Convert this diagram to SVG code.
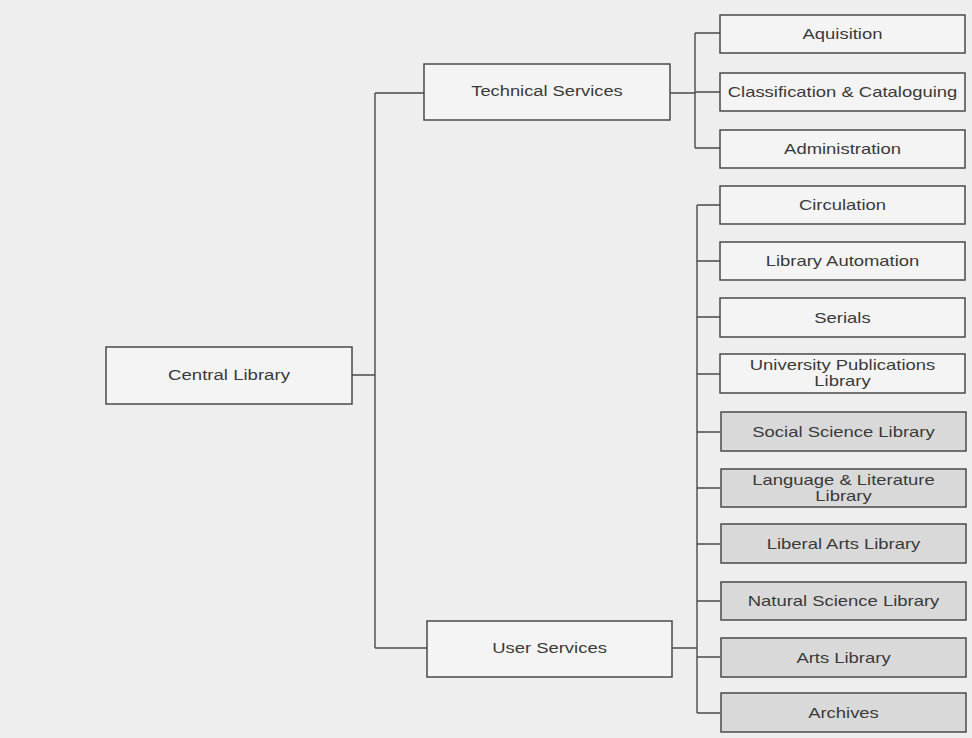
<svg xmlns="http://www.w3.org/2000/svg" width="972" height="738" viewBox="0 0 972 738">
  <style>
    .box { stroke: #4a4a4a; stroke-width: 1.5; }
    .plain { fill: #f4f4f4; }
    .shade { fill: #d9d9d9; }
    .lbl { font-family: "Liberation Sans", Arial, sans-serif; font-size: 15px; fill: #3a3a3a; text-anchor: middle; }
    .wire { fill: none; stroke: #4a4a4a; stroke-width: 1.4; }
  </style>
  <rect width="972" height="738" fill="#eeeeee"/>

  <!-- tree connectors -->
  <g id="connectors">
    <!-- root to second level -->
    <path class="wire" d="M352 375 H375 M375 93 V648 M375 93 H424 M375 648 H427"/>
    <!-- Technical Services branch -->
    <path class="wire" d="M670 93 H695 M695 33 V148 M695 33 H720 M695 92 H720 M695 148 H720"/>
    <!-- User Services branch -->
    <path class="wire" d="M672 648 H697 M697 205 V713 M697 205 H720 M697 261 H720 M697 317 H720 M697 374 H720 M697 432 H720 M697 488 H720 M697 544 H720 M697 601 H720 M697 657 H720 M697 713 H720"/>
  </g>

  <g id="central-library">
    <rect class="box plain" x="106" y="347" width="246" height="57"/>
    <text class="lbl" transform="translate(229 380) scale(1.24 1)">Central Library</text>
  </g>

  <g id="technical-services">
    <rect class="box plain" x="424" y="64" width="246" height="56"/>
    <text class="lbl" transform="translate(547 96) scale(1.22 1)">Technical Services</text>
  </g>

  <g id="user-services">
    <rect class="box plain" x="427" y="621" width="245" height="56"/>
    <text class="lbl" transform="translate(549.5 653) scale(1.23 1)">User Services</text>
  </g>

  <g id="aquisition">
    <rect class="box plain" x="720" y="15" width="245" height="38"/>
    <text class="lbl" transform="translate(842.5 39) scale(1.23 1)">Aquisition</text>
  </g>
  <g id="classification">
    <rect class="box plain" x="720" y="73" width="245" height="38"/>
    <text class="lbl" transform="translate(842.5 97) scale(1.23 1)">Classification &amp; Cataloguing</text>
  </g>
  <g id="administration">
    <rect class="box plain" x="720" y="130" width="245" height="38"/>
    <text class="lbl" transform="translate(842.5 154) scale(1.23 1)">Administration</text>
  </g>

  <g id="circulation">
    <rect class="box plain" x="720" y="186" width="245" height="38"/>
    <text class="lbl" transform="translate(842.5 210) scale(1.23 1)">Circulation</text>
  </g>
  <g id="library-automation">
    <rect class="box plain" x="720" y="242" width="245" height="38"/>
    <text class="lbl" transform="translate(842.5 266) scale(1.23 1)">Library Automation</text>
  </g>
  <g id="serials">
    <rect class="box plain" x="720" y="298" width="245" height="39"/>
    <text class="lbl" transform="translate(842.5 322.5) scale(1.23 1)">Serials</text>
  </g>
  <g id="university-publications">
    <rect class="box plain" x="720" y="354" width="245" height="39"/>
    <text class="lbl" transform="translate(842.5 370) scale(1.23 1)">University Publications</text>
    <text class="lbl" transform="translate(842.5 385.5) scale(1.23 1)">Library</text>
  </g>
  <g id="social-science">
    <rect class="box shade" x="721" y="412" width="245" height="39"/>
    <text class="lbl" transform="translate(843.5 437) scale(1.23 1)">Social Science Library</text>
  </g>
  <g id="language-literature">
    <rect class="box shade" x="721" y="469" width="245" height="38"/>
    <text class="lbl" transform="translate(843.5 485) scale(1.23 1)">Language &amp; Literature</text>
    <text class="lbl" transform="translate(843.5 500.5) scale(1.23 1)">Library</text>
  </g>
  <g id="liberal-arts">
    <rect class="box shade" x="721" y="524" width="245" height="39"/>
    <text class="lbl" transform="translate(843.5 549) scale(1.23 1)">Liberal Arts Library</text>
  </g>
  <g id="natural-science">
    <rect class="box shade" x="721" y="582" width="245" height="38"/>
    <text class="lbl" transform="translate(843.5 606) scale(1.23 1)">Natural Science Library</text>
  </g>
  <g id="arts-library">
    <rect class="box shade" x="721" y="638" width="245" height="39"/>
    <text class="lbl" transform="translate(843.5 662.5) scale(1.23 1)">Arts Library</text>
  </g>
  <g id="archives">
    <rect class="box shade" x="721" y="693" width="245" height="39"/>
    <text class="lbl" transform="translate(843.5 718) scale(1.23 1)">Archives</text>
  </g>
</svg>
